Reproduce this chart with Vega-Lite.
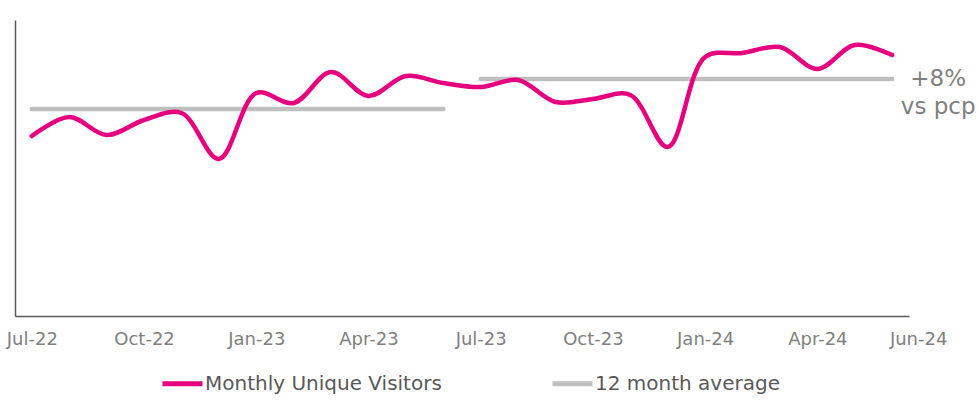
{
  "$schema": "https://vega.github.io/schema/vega-lite/v6.json",
  "width": 894,
  "height": 296,
  "autosize": {"type": "none"},
  "padding": {"left": 15, "top": 20, "right": 70, "bottom": 85},
  "background": "white",
  "config": {
    "view": {"stroke": null},
    "font": "DejaVu Sans"
  },
  "datasets": {
    "visitors": [
      {"month": "Jul-22", "value": 180, "series": "Monthly Unique Visitors"},
      {"month": "Aug-22", "value": 199, "series": "Monthly Unique Visitors"},
      {"month": "Sep-22", "value": 181, "series": "Monthly Unique Visitors"},
      {"month": "Oct-22", "value": 196, "series": "Monthly Unique Visitors"},
      {"month": "Nov-22", "value": 203, "series": "Monthly Unique Visitors"},
      {"month": "Dec-22", "value": 157, "series": "Monthly Unique Visitors"},
      {"month": "Jan-23", "value": 223, "series": "Monthly Unique Visitors"},
      {"month": "Feb-23", "value": 213, "series": "Monthly Unique Visitors"},
      {"month": "Mar-23", "value": 244, "series": "Monthly Unique Visitors"},
      {"month": "Apr-23", "value": 220, "series": "Monthly Unique Visitors"},
      {"month": "May-23", "value": 240, "series": "Monthly Unique Visitors"},
      {"month": "Jun-23", "value": 233, "series": "Monthly Unique Visitors"},
      {"month": "Jul-23", "value": 229, "series": "Monthly Unique Visitors"},
      {"month": "Aug-23", "value": 236, "series": "Monthly Unique Visitors"},
      {"month": "Sep-23", "value": 214, "series": "Monthly Unique Visitors"},
      {"month": "Oct-23", "value": 217, "series": "Monthly Unique Visitors"},
      {"month": "Nov-23", "value": 221, "series": "Monthly Unique Visitors"},
      {"month": "Dec-23", "value": 169, "series": "Monthly Unique Visitors"},
      {"month": "Jan-24", "value": 259, "series": "Monthly Unique Visitors"},
      {"month": "Feb-24", "value": 263, "series": "Monthly Unique Visitors"},
      {"month": "Mar-24", "value": 269, "series": "Monthly Unique Visitors"},
      {"month": "Apr-24", "value": 247, "series": "Monthly Unique Visitors"},
      {"month": "May-24", "value": 271, "series": "Monthly Unique Visitors"},
      {"month": "Jun-24", "value": 261, "series": "Monthly Unique Visitors"}
    ],
    "average": [
      {"month": "Jul-22", "value": 207, "series": "12 month average", "period": "FY23"},
      {"month": "Jun-23", "value": 207, "series": "12 month average", "period": "FY23"},
      {"month": "Jul-23", "value": 237, "series": "12 month average", "period": "FY24"},
      {"month": "Jun-24", "value": 237, "series": "12 month average", "period": "FY24"}
    ],
    "note": [
      {"month": "Jun-24", "value": 237, "label": ["+8%", "vs pcp"]}
    ]
  },
  "encoding": {
    "x": {
      "field": "month",
      "type": "ordinal",
      "sort": null,
      "scale": {
        "type": "point",
        "padding": 0.45,
        "domain": ["Jul-22","Aug-22","Sep-22","Oct-22","Nov-22","Dec-22","Jan-23","Feb-23","Mar-23","Apr-23","May-23","Jun-23","Jul-23","Aug-23","Sep-23","Oct-23","Nov-23","Dec-23","Jan-24","Feb-24","Mar-24","Apr-24","May-24","Jun-24"]
      },
      "axis": {
        "title": null,
        "values": ["Jul-22","Oct-22","Jan-23","Apr-23","Jul-23","Oct-23","Jan-24","Apr-24","Jun-24"],
        "labelAngle": 0,
        "ticks": false,
        "grid": false,
        "domainColor": "#595959",
        "domainWidth": 1.5,
        "labelColor": "#808080",
        "labelFont": "DejaVu Sans",
        "labelFontSize": 18,
        "labelPadding": 14,
        "labelOffset": {"condition": {"test": "datum.value === 'Jun-24'", "value": 26}, "value": 0}
      }
    },
    "y": {
      "field": "value",
      "type": "quantitative",
      "scale": {"domain": [0, 296], "nice": false, "zero": true},
      "axis": {
        "title": null,
        "labels": false,
        "ticks": false,
        "grid": false,
        "domainColor": "#595959",
        "domainWidth": 1.5
      }
    }
  },
  "layer": [
    {
      "data": {"name": "average"},
      "mark": {"type": "line", "strokeWidth": 4.5, "strokeCap": "round"},
      "encoding": {
        "detail": {"field": "period"},
        "color": {
          "field": "series",
          "type": "nominal",
          "scale": {"domain": ["Monthly Unique Visitors", "12 month average"], "range": ["#e6007e", "#bfbfbf"]},
          "legend": {
            "title": null,
            "orient": "none",
            "legendX": 145,
            "legendY": 341,
            "direction": "horizontal",
            "symbolType": "stroke",
            "symbolSize": 1600,
            "symbolStrokeWidth": 5,
            "labelFont": "DejaVu Sans",
            "labelFontSize": 20,
            "labelColor": "#595959",
            "labelOffset": 0,
            "columnPadding": 100,
            "labelLimit": 400
          }
        }
      }
    },
    {
      "data": {"name": "visitors"},
      "mark": {"type": "line", "strokeWidth": 4.5, "interpolate": "catmull-rom", "strokeCap": "round"},
      "encoding": {
        "color": {"field": "series", "type": "nominal"}
      }
    },
    {
      "data": {"name": "note"},
      "mark": {"type": "text", "font": "DejaVu Sans", "fontSize": 23, "color": "#808080", "align": "center", "baseline": "alphabetic", "dx": 46, "dy": 7, "lineHeight": 28},
      "encoding": {
        "text": {"field": "label"}
      }
    }
  ]
}
